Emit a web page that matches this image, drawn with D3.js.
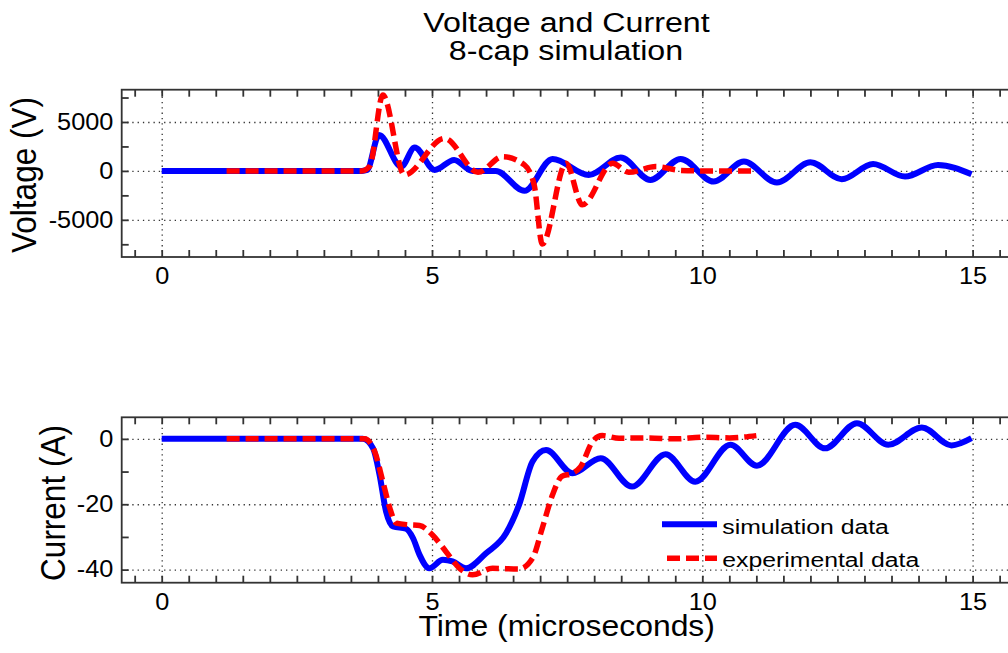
<!DOCTYPE html>
<html>
<head>
<meta charset="utf-8">
<script src="https://d3js.org/d3.v7.min.js"></script>
<style>
    body { margin: 0; background: #fff; }
    svg { display: block; font-family: "Liberation Sans", Arial, sans-serif; }
</style>
</head>
<body>
<div id="chart"></div>
<script>
    // ---- data ----
    var xTicks = [0, 5, 10, 15];
    var voltTicks = [-5000, 0, 5000];
    var currTicks = [-40, -20, 0];

    // simulation voltage (blue)
    var simVoltT = [0, 3.7, 3.8, 4.02, 4.43, 4.68, 5.05, 5.41, 5.75, 6.18, 6.71, 7.23, 7.9, 8.49, 9.04, 9.6, 10.21, 10.77, 11.38, 12.0, 12.58, 13.16, 13.75, 14.36, 14.98];
    var simVolt = [0, 0, 100, 3670, 440, 2380, 100, 1120, 0, 0, -2040, 1220, -410, 1360, -920, 1220, -1090, 950, -1190, 890, -850, 710, -580, 610, -340];

    // experimental voltage (red)
    var expVoltT = [1.2, 3.7, 3.85, 4.09, 4.49, 5.23, 5.85, 6.31, 6.71, 6.89, 7.04, 7.48, 7.78, 8.34, 8.64, 9.14, 9.6, 10.0, 10.5, 11.0];
    var expVolt = [0, 0, 500, 7750, -410, 3330, -140, 1460, 610, -1430, -7480, 780, -3470, 780, -140, 440, 50, 0, 0, 0];

    // simulation current (blue)
    var simCurrT = [0, 3.72, 3.91, 4.03, 4.15, 4.28, 4.52, 4.65, 4.77, 4.95, 5.2, 5.38, 5.63, 6.0, 6.37, 6.61, 6.86, 7.11, 7.6, 8.12, 8.7, 9.32, 9.87, 10.52, 11.01, 11.72, 12.27, 12.86, 13.44, 14.06, 14.61, 14.98];
    var simCurr = [0, 0, -2.9, -11, -22.2, -26.8, -27.5, -30.4, -35.5, -39.6, -37, -37.5, -39.6, -35, -28.9, -20.2, -6.9, -3.4, -10.5, -5.9, -14.6, -4.7, -13.1, -1.8, -8.2, 4.3, -2.9, 4.8, -1.8, 3.5, -2.0, 0.2];

    // experimental current (red)
    var expCurrT = [1.2, 3.75, 3.94, 4.09, 4.22, 4.34, 4.58, 4.77, 5.01, 5.26, 5.51, 5.75, 6.12, 6.61, 6.86, 7.04, 7.23, 7.4, 7.6, 7.75, 7.97, 8.15, 8.46, 9.0, 9.5, 10.0, 10.5, 11.0];
    var expCurr = [0, 0, -3.9, -13, -21.2, -25.8, -26.3, -26.5, -29.4, -34.5, -39.6, -41.6, -39.6, -39.8, -36.5, -27.3, -17.1, -11.5, -10.5, -8.5, -0.8, 1.0, 0.2, 0.3, 0.0, 0.5, 0.3, 1.0];

    var width = 1008;
    var height = 653;
    var left = 121.7, right = 1012.6;
    var font = '"Liberation Sans", Arial, sans-serif';

    var svg = d3.select("#chart").append("svg")
        .attr("width", width)
        .attr("height", height);

    var xs = d3.scaleLinear().domain([-0.74, 15.74]).range([left, right]);

    // horizontally stretched text, like the original export
    function label(x, y, str, size, sx, anchor, rot) {
        var tr = "translate(" + x + "," + y + ") scale(" + sx + ",1)";
        if (rot) tr += " rotate(-90)";
        svg.append("g").attr("transform", tr)
            .append("text")
            .attr("text-anchor", anchor)
            .style("font-size", size + "px")
            .attr("fill", "#000")
            .text(str);
    }

    function drawPanel(ys, top, bottom, majors, step) {
        var xAll = d3.range(-0.5, 16, 0.5);
        var yAll = d3.range(ys.domain()[0] - ys.domain()[0] % step, ys.domain()[1], step);

        // grid
        svg.append("g")
            .attr("transform", "translate(0," + bottom + ")")
            .call(d3.axisBottom(xs).tickValues(xTicks).tickSize(-(bottom - top)).tickFormat(""))
            .call(g => g.select(".domain").remove())
            .selectAll("line").attr("stroke", "#333").attr("stroke-width", 1.3).attr("stroke-dasharray", "1.3,4");
        svg.append("g")
            .attr("transform", "translate(" + left + ",0)")
            .call(d3.axisLeft(ys).tickValues(majors).tickSize(-(right - left)).tickFormat(""))
            .call(g => g.select(".domain").remove())
            .selectAll("line").attr("stroke", "#333").attr("stroke-width", 1.3).attr("stroke-dasharray", "1.3,4");

        // frame
        svg.append("rect")
            .attr("x", left).attr("y", top)
            .attr("width", right - left).attr("height", bottom - top)
            .attr("fill", "none").attr("stroke", "#333").attr("stroke-width", 1.8);

        // inward ticks
        var xb = svg.append("g")
            .attr("transform", "translate(0," + bottom + ")")
            .call(d3.axisBottom(xs).tickValues(xAll).tickSize(-7).tickPadding(11)
                .tickFormat(d => xTicks.indexOf(d) >= 0 ? String(d) : ""));
        xb.select(".domain").remove();
        xb.selectAll("line").attr("stroke", "#333").attr("stroke-width", 1.8);
        xb.selectAll("text").style("font-size", "23px").style("font-family", font)
            .attr("fill", "#000").attr("transform", "scale(1.1,1)");

        var xt = svg.append("g")
            .attr("transform", "translate(0," + top + ")")
            .call(d3.axisTop(xs).tickValues(xAll).tickSize(-7).tickFormat(""));
        xt.select(".domain").remove();
        xt.selectAll("line").attr("stroke", "#333").attr("stroke-width", 1.8);

        var yl = svg.append("g")
            .attr("transform", "translate(" + left + ",0)")
            .call(d3.axisLeft(ys).tickValues(yAll).tickSize(-7).tickPadding(7.6)
                .tickFormat(d => majors.indexOf(d) >= 0 ? String(d) : ""));
        yl.select(".domain").remove();
        yl.selectAll("line").attr("stroke", "#333").attr("stroke-width", 1.8);
        yl.selectAll("text").style("font-size", "23px").style("font-family", font)
            .attr("fill", "#000").attr("transform", "scale(1.1,1)");
    }

    function drawLines(ys, simT, sim, expT, exp) {
        var line = d3.line()
            .x(d => xs(d[0]))
            .y(d => ys(d[1]))
            .curve(d3.curveMonotoneX);
        svg.append("path")
            .attr("d", line(d3.zip(simT, sim)))
            .attr("fill", "none")
            .attr("stroke", "#0000ff")
            .attr("stroke-width", 6)
            .attr("stroke-linejoin", "round");
        svg.append("path")
            .attr("d", line(d3.zip(expT, exp)))
            .attr("fill", "none")
            .attr("stroke", "#ff0000")
            .attr("stroke-width", 5.5)
            .attr("stroke-dasharray", "13,6");
    }

    // ---- voltage panel ----
    var vTop = 89.7, vBottom = 257;
    var yv = d3.scaleLinear().domain([-8800, 8300]).range([vBottom, vTop]);
    drawPanel(yv, vTop, vBottom, voltTicks, 2500);
    drawLines(yv, simVoltT, simVolt, expVoltT, expVolt);

    // ---- current panel ----
    var cTop = 417.3, cBottom = 582.7;
    var yc = d3.scaleLinear().domain([-44, 6.6]).range([cBottom, cTop]);
    drawPanel(yc, cTop, cBottom, currTicks, 10);
    drawLines(yc, simCurrT, simCurr, expCurrT, expCurr);

    // ---- titles and labels ----
    label(566.5, 31.7, "Voltage and Current", 28, 1.15, "middle");
    label(566, 60, "8-cap simulation", 28, 1.15, "middle");
    label(566.7, 636, "Time (microseconds)", 29, 1.1, "middle");
    label(36, 175, "Voltage (V)", 31.5, 1.1, "middle", true);
    label(65, 503, "Current (A)", 31.5, 1.1, "middle", true);

    // ---- legend ----
    svg.append("line")
        .attr("x1", 662).attr("x2", 717).attr("y1", 524.3).attr("y2", 524.3)
        .attr("stroke", "#0000ff").attr("stroke-width", 6);
    svg.append("line")
        .attr("x1", 667).attr("x2", 717).attr("y1", 558.3).attr("y2", 558.3)
        .attr("stroke", "#ff0000").attr("stroke-width", 5.5).attr("stroke-dasharray", "13,6");
    label(722.3, 533.5, "simulation data", 21, 1.18, "start");
    label(722.3, 566.5, "experimental data", 21, 1.18, "start");
</script>
</body>
</html>
